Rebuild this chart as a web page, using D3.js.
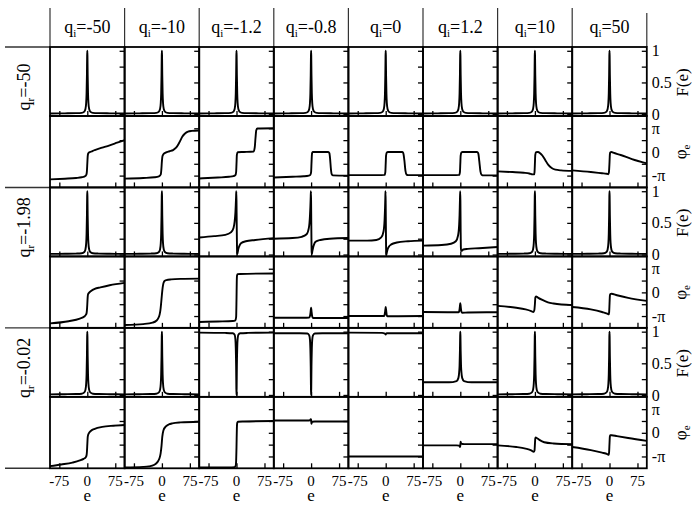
<!DOCTYPE html>
<html><head><meta charset="utf-8">
<script src="https://cdn.jsdelivr.net/npm/d3@7"></script>
<style>
body{margin:0;background:#fff;}
</style>
</head><body>
<svg id="chart" width="700" height="511" font-family="Liberation Serif, serif"></svg>
<script>
// ---------- labels / ticks ----------
const qiLabels = ["-50","-10","-1.2","-0.8","0","1.2","10","50"];
const qrLabels = ["-50","-1.98","-0.02"];
const xTicks = [-75, 0, 75];
const xTickLabels = ["-75","0","75"];
const fTicks = [0, 0.25, 0.5, 0.75, 1];
const fTickLabels = [[1,"1"],[0.5,"0.5"],[0,"0"]];
const phTicks = [-1, -0.5, 0, 0.5, 1];          // in units of pi
const phTickLabels = [[1,"\u03c0"],[0,"0"],[-1,"-\u03c0"]];

// ---------- data: [e, value] (phase values in units of pi) ----------
const peak = [[-100,0.01],[-60,0.012],[-30,0.015],[-15,0.02],[-8,0.04],[-5,0.08],[-3,0.18],[-2,0.32],[-1,0.62],[-0.4,0.92],[0,1],[0.4,0.92],[1,0.62],[2,0.32],[3,0.18],[5,0.08],[8,0.04],[15,0.02],[30,0.015],[60,0.012],[100,0.01]];

// q_r = -50
const F_qr50 = [peak, peak, peak, peak, peak, peak, peak, peak];
const P_qr50 = [
 [[-100,-1.16],[-60,-1.13],[-30,-1.1],[-15,-1.07],[-8,-1.04],[-4,-1.0],[-2,-0.93],[-1,-0.8],[0,-0.5],[1,-0.2],[2,-0.08],[4,-0.03],[8,0.0],[15,0.05],[20,0.08],[40,0.18],[60,0.28],[80,0.39],[100,0.5]],
 [[-100,-1.13],[-50,-1.1],[-20,-1.07],[-8,-1.03],[-3,-0.95],[-1.5,-0.75],[0,-0.4],[1.5,-0.18],[4,-0.1],[10,-0.03],[20,0.03],[30,0.08],[38,0.18],[45,0.35],[50,0.5],[55,0.65],[62,0.78],[70,0.86],[80,0.89],[100,0.91]],
 [[-100,-1.12],[-50,-1.08],[-20,-1.05],[-8,-1.02],[-3,-0.98],[-1,-0.85],[0,-0.5],[1,-0.12],[3,-0.01],[20,0.0],[46,0.02],[49,0.2],[51,0.6],[53,0.92],[56,0.99],[100,1.0]],
 [[-100,-1.08],[-50,-1.05],[-20,-1.03],[-6,-1.0],[-2,-0.97],[0,-0.85],[1,-0.5],[2,-0.15],[3,-0.03],[5,0.0],[46,0.0],[49,-0.05],[51,-0.3],[53,-0.7],[55,-0.93],[58,-0.99],[100,-1.0]],
 [[-100,-0.98],[-20,-0.98],[-3,-0.97],[-1,-0.85],[0,-0.5],[1,-0.15],[3,-0.02],[6,0.0],[44,0.0],[47,-0.04],[50,-0.35],[53,-0.8],[56,-0.96],[60,-0.98],[100,-0.98]],
 [[-100,-0.98],[-20,-0.98],[-3,-0.97],[-1,-0.85],[0,-0.5],[1,-0.15],[3,-0.02],[6,0.0],[45,0.0],[48,-0.05],[51,-0.4],[54,-0.82],[57,-0.96],[62,-0.99],[100,-0.99]],
 [[-100,-0.82],[-60,-0.85],[-30,-0.88],[-15,-0.91],[-6,-0.95],[-2,-0.95],[-1,-0.85],[0,-0.5],[1,-0.12],[3,-0.01],[8,0.0],[14,-0.05],[20,-0.15],[28,-0.35],[36,-0.55],[45,-0.68],[55,-0.75],[70,-0.78],[100,-0.8]],
 [[-100,-0.78],[-50,-0.85],[-20,-0.9],[-8,-0.92],[-3,-0.94],[-1.5,-0.85],[0,-0.45],[1,-0.1],[2,-0.02],[5,0.0],[10,-0.03],[30,-0.13],[60,-0.3],[100,-0.48]]
];

// q_r = -1.98
const F_qr198 = [
 peak, peak,
 [[-100,0.27],[-60,0.29],[-30,0.31],[-15,0.35],[-8,0.42],[-5,0.52],[-3,0.66],[-2,0.78],[-1,0.93],[-0.5,1.0],[0,0.85],[0.5,0.55],[1,0.25],[1.5,0.06],[2,0.01],[3,0.03],[5,0.09],[8,0.14],[12,0.18],[25,0.21],[50,0.23],[100,0.26]],
 [[-100,0.25],[-50,0.26],[-25,0.28],[-12,0.32],[-6,0.42],[-3,0.62],[-2,0.75],[-1,0.92],[-0.5,1.0],[0,0.85],[0.5,0.5],[1,0.2],[1.5,0.04],[2,0.01],[3,0.04],[5,0.1],[8,0.16],[12,0.2],[25,0.23],[50,0.25],[100,0.26]],
 [[-100,0.22],[-50,0.22],[-25,0.23],[-12,0.27],[-6,0.36],[-3,0.55],[-2,0.7],[-1,0.9],[-0.5,1.0],[0,0.8],[0.5,0.45],[1,0.12],[1.5,0.01],[2,0.0],[3,0.03],[5,0.08],[8,0.12],[15,0.16],[30,0.19],[60,0.21],[100,0.22]],
 [[-100,0.14],[-50,0.15],[-25,0.17],[-12,0.21],[-6,0.3],[-3,0.48],[-2,0.62],[-1,0.85],[-0.3,1.0],[0.3,0.85],[1,0.35],[1.5,0.12],[2,0.06],[4,0.06],[8,0.08],[20,0.09],[50,0.1],[100,0.12]],
 peak, peak
];
const P_qr198 = [
 [[-100,-1.31],[-50,-1.22],[-20,-1.11],[-8,-1.02],[-4,-0.95],[-2,-0.88],[-1,-0.75],[0,-0.5],[1,-0.2],[2,-0.08],[5,-0.01],[10,0.06],[20,0.15],[35,0.21],[60,0.3],[100,0.4]],
 [[-100,-1.38],[-50,-1.34],[-25,-1.28],[-15,-1.2],[-10,-1.1],[-6,-0.93],[-4,-0.75],[-2,-0.45],[0,-0.1],[2,0.2],[4,0.38],[7,0.48],[12,0.52],[25,0.55],[50,0.57],[100,0.58]],
 [[-100,-1.25],[-50,-1.23],[-10,-1.21],[-3,-1.18],[-1,-1.05],[0,-0.3],[0.7,0.45],[1.5,0.72],[3,0.77],[10,0.78],[100,0.8]],
 [[-100,-1.07],[-20,-1.07],[-5,-1.06],[-3,-1.0],[-1.5,-0.85],[0,-0.65],[1.5,-0.85],[3,-1.02],[5,-1.08],[20,-1.08],[100,-1.08]],
 [[-100,-1.0],[-5,-1.0],[-3,-0.95],[-1.5,-0.8],[0,-0.62],[1.5,-0.8],[3,-0.97],[5,-1.01],[100,-1.0]],
 [[-100,-0.83],[-5,-0.84],[-3,-0.8],[-1.5,-0.65],[0,-0.46],[1.5,-0.66],[3,-0.82],[5,-0.86],[20,-0.85],[100,-0.84]],
 [[-100,-0.57],[-50,-0.65],[-25,-0.72],[-10,-0.79],[-4,-0.83],[-1.5,-0.75],[0,-0.5],[1.2,-0.22],[3,-0.17],[8,-0.22],[20,-0.32],[35,-0.42],[50,-0.47],[100,-0.54]],
 [[-100,-0.62],[-50,-0.72],[-20,-0.83],[-6,-0.9],[-2,-0.93],[-1,-0.85],[0,-0.5],[1,-0.15],[2,-0.07],[5,-0.06],[20,-0.12],[50,-0.23],[100,-0.36]]
];

// q_r = -0.02
const F_qr002 = [
 peak, peak,
 [[-100,0.985],[-30,0.98],[-10,0.975],[-5,0.95],[-3,0.88],[-2,0.75],[-1,0.45],[-0.4,0.1],[0,0.0],[0.4,0.1],[1,0.45],[2,0.75],[3,0.88],[5,0.95],[10,0.975],[30,0.98],[100,0.985]],
 [[-100,0.975],[-30,0.975],[-10,0.97],[-5,0.94],[-3,0.87],[-2,0.74],[-1,0.44],[-0.4,0.1],[0,0.0],[0.4,0.1],[1,0.44],[2,0.74],[3,0.87],[5,0.94],[10,0.97],[30,0.975],[100,0.975]],
 [[-100,0.985],[-10,0.98],[-2,0.97],[0,0.955],[1,0.965],[3,0.975],[100,0.975]],
 [[-100,0.2],[-30,0.2],[-10,0.22],[-5,0.27],[-3,0.36],[-2,0.46],[-1,0.7],[-0.4,0.93],[0,1.0],[0.4,0.93],[1,0.7],[2,0.46],[3,0.36],[5,0.27],[10,0.22],[30,0.2],[100,0.2]],
 peak, peak
];
const P_qr002 = [
 [[-100,-1.41],[-70,-1.34],[-40,-1.26],[-20,-1.17],[-10,-1.1],[-4,-1.03],[-2,-0.95],[-1,-0.8],[0,-0.5],[1,-0.2],[2,-0.1],[5,0.0],[10,0.09],[20,0.17],[40,0.25],[70,0.3],[100,0.33]],
 [[-100,-1.46],[-50,-1.44],[-35,-1.42],[-20,-1.35],[-12,-1.24],[-7,-1.1],[-3.5,-0.88],[-1,-0.55],[1,-0.17],[4,0.1],[10,0.26],[18,0.35],[28,0.4],[50,0.44],[100,0.47]],
 [[-100,-1.46],[-20,-1.46],[-5,-1.45],[-2,-1.38],[-1,-1.2],[0,-0.6],[1,0.2],[2,0.42],[4,0.47],[20,0.48],[100,0.5]],
 [[-100,0.52],[-10,0.52],[-3,0.53],[-1,0.58],[0,0.55],[0.7,0.38],[1.5,0.42],[3,0.47],[10,0.48],[100,0.48]],
 [[-100,-1.0],[0,-1.0],[100,-1.0]],
 [[-100,-0.53],[-10,-0.53],[-3,-0.54],[-1,-0.6],[0,-0.55],[0.7,-0.38],[1.5,-0.42],[3,-0.46],[10,-0.48],[100,-0.48]],
 [[-100,-0.53],[-50,-0.6],[-25,-0.67],[-10,-0.74],[-3,-0.8],[-1,-0.75],[0,-0.5],[1,-0.25],[2,-0.2],[5,-0.22],[12,-0.3],[25,-0.4],[50,-0.45],[100,-0.48]],
 [[-100,-0.6],[-50,-0.73],[-20,-0.84],[-6,-0.9],[-2,-0.93],[-1,-0.8],[0,-0.45],[1,-0.15],[2,-0.1],[6,-0.1],[20,-0.14],[50,-0.22],[100,-0.34]]
];

const groups = [
  {label: qrLabels[0], F: F_qr50,  P: P_qr50},
  {label: qrLabels[1], F: F_qr198, P: P_qr198},
  {label: qrLabels[2], F: F_qr002, P: P_qr002}
];

// ---------- layout ----------
const svg = d3.select("#chart");
const FONT = "Liberation Serif, serif";
const X0 = 50, PW = 74.6, Y0 = 47, FH = 69, GH = 140.43, PH = GH - FH;
const nCols = qiLabels.length;
const XR = X0 + PW * nCols;
const line = d3.line().curve(d3.curveMonotoneX);
const defs = svg.append("defs");
let clipId = 0;

function txt(sel) { return sel.append("text").attr("font-family", FONT).attr("fill", "#000"); }

function drawPanel(left, top, h, yDomain, yTicks, data) {
  const x = d3.scaleLinear().domain([-100, 100]).range([left, left + PW]);
  const y = d3.scaleLinear().domain(yDomain).range([top + h, top]);
  const id = "clip" + (clipId++);
  defs.append("clipPath").attr("id", id).append("rect")
    .attr("x", left).attr("y", top).attr("width", PW).attr("height", h);
  svg.append("path")
    .attr("clip-path", `url(#${id})`)
    .attr("d", line.x(d => x(d[0])).y(d => y(d[1]))(data))
    .attr("fill", "none").attr("stroke", "#000").attr("stroke-width", 1.9)
    .attr("stroke-linejoin", "round");
  const gb = svg.append("g").attr("transform", `translate(0,${top + h})`)
    .call(d3.axisBottom(x).tickValues(xTicks).tickSize(-5).tickFormat(""));
  gb.select(".domain").remove();
  gb.selectAll("line").attr("stroke", "#000").attr("stroke-width", 1.3);
  const gr = svg.append("g").attr("transform", `translate(${left + PW},0)`)
    .call(d3.axisRight(y).tickValues(yTicks).tickSize(-5).tickFormat(""));
  gr.select(".domain").remove();
  gr.selectAll("line").attr("stroke", "#000").attr("stroke-width", 1.3);
  svg.append("rect").attr("x", left).attr("y", top).attr("width", PW).attr("height", h)
    .attr("fill", "none").attr("stroke", "#000").attr("stroke-width", 1.8);
  return {x, y};
}

// header separators
for (let c = 0; c <= nCols; c++) {
  const xx = X0 + PW * c;
  svg.append("line").attr("x1", xx).attr("x2", xx).attr("y1", c === nCols ? 13 : 8).attr("y2", Y0)
    .attr("stroke", "#333").attr("stroke-width", 1.2);
}
// left separators
for (let g = 0; g <= groups.length; g++) {
  const yy = Y0 + GH * g;
  svg.append("line").attr("x1", 5).attr("x2", X0).attr("y1", yy).attr("y2", yy)
    .attr("stroke", "#333").attr("stroke-width", 1.4);
}

// header labels
qiLabels.forEach((lab, c) => {
  const t = txt(svg).attr("x", X0 + PW * c + PW / 2).attr("y", 33)
    .attr("text-anchor", "middle").attr("font-size", 18);
  t.append("tspan").text("q");
  t.append("tspan").attr("font-size", 11).attr("dy", 4).text("i");
  t.append("tspan").attr("dy", -4).text("=" + lab);
});

groups.forEach((grp, g) => {
  const fTop = Y0 + GH * g;
  const pTop = fTop + FH;
  const t = txt(svg).attr("transform", `translate(30,${fTop + 40}) rotate(-90)`)
    .attr("text-anchor", "middle").attr("font-size", 18);
  t.append("tspan").text("q");
  t.append("tspan").attr("font-size", 11).attr("dy", 4).text("r");
  t.append("tspan").attr("dy", -4).text("=" + grp.label);

  let fy, py;
  for (let c = 0; c < nCols; c++) {
    const left = X0 + PW * c;
    const r1 = drawPanel(left, fTop, FH, [-0.03, 1.06], fTicks, grp.F[c]);
    const r2 = drawPanel(left, pTop, PH, [-1.5, 1.52], phTicks, grp.P[c]);
    fy = r1.y; py = r2.y;
    if (g === groups.length - 1) {
      const x = r2.x;
      xTicks.forEach((tv, i) => {
        txt(svg).attr("x", x(tv)).attr("y", 486).attr("text-anchor", "middle")
          .attr("font-size", 15).text(xTickLabels[i]);
      });
      txt(svg).attr("x", x(0)).attr("y", 501).attr("text-anchor", "middle")
        .attr("font-size", 17).text("e");
    }
  }
  fTickLabels.forEach(([v, s]) => {
    txt(svg).attr("x", XR + 5).attr("y", fy(v)).attr("dy", "0.35em")
      .attr("font-size", 16).text(s);
  });
  phTickLabels.forEach(([v, s]) => {
    txt(svg).attr("x", XR + 5).attr("y", py(v)).attr("dy", "0.35em")
      .attr("font-size", 16).text(s);
  });
  txt(svg).attr("transform", `translate(688,${fy(0.5)}) rotate(-90)`)
    .attr("text-anchor", "middle").attr("font-size", 17).text("F(e)");
  const pt = txt(svg).attr("transform", `translate(686,${py(0)}) rotate(-90)`)
    .attr("text-anchor", "middle").attr("font-size", 17);
  pt.append("tspan").text("\u03c6");
  pt.append("tspan").attr("font-size", 11).attr("dy", 4).text("e");
});
</script>
</body></html>
